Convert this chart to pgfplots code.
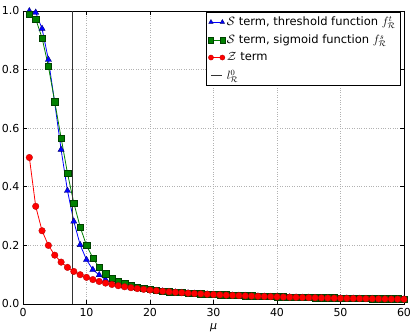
\documentclass[border=0pt]{standalone}
\usepackage{fontspec}
\setmainfont{DejaVu Sans}
\usepackage{pgfplots}
\usepackage{pgfplotstable}
\pgfplotsset{compat=1.18}

\definecolor{mblue}{rgb}{0,0,1}
\definecolor{mgreen}{rgb}{0,0.5,0}
\definecolor{mred}{rgb}{1,0,0}

\pgfplotstableread{
mu thr sig z
1 1.000 0.990 0.5000
2 0.995 0.973 0.3333
3 0.940 0.908 0.2500
4 0.834 0.811 0.2000
5 0.686 0.690 0.1667
6 0.527 0.567 0.1429
7 0.387 0.447 0.1250
8 0.282 0.345 0.1111
9 0.202 0.263 0.1000
10 0.151 0.200 0.0909
11 0.117 0.157 0.0833
12 0.099 0.125 0.0769
13 0.083 0.104 0.0714
14 0.072 0.088 0.0667
15 0.065 0.077 0.0625
16 0.060 0.069 0.0588
17 0.056 0.063 0.0556
18 0.053 0.058 0.0526
19 0.050 0.054 0.0500
20 0.048 0.050 0.0476
21 0.0455 0.047 0.0455
22 0.0435 0.0445 0.0435
23 0.0417 0.0425 0.0417
24 0.0400 0.0410 0.0400
25 0.0385 0.0395 0.0385
26 0.0370 0.0380 0.0370
27 0.0357 0.0367 0.0357
28 0.0345 0.0355 0.0345
29 0.0333 0.0343 0.0333
30 0.0323 0.0333 0.0323
31 0.0313 0.0323 0.0313
32 0.0303 0.0313 0.0303
33 0.0294 0.0304 0.0294
34 0.0286 0.0296 0.0286
35 0.0278 0.0288 0.0278
36 0.0270 0.0280 0.0270
37 0.0263 0.0273 0.0263
38 0.0256 0.0266 0.0256
39 0.0250 0.0260 0.0250
40 0.0244 0.0254 0.0244
41 0.0238 0.0248 0.0238
42 0.0233 0.0243 0.0233
43 0.0227 0.0237 0.0227
44 0.0222 0.0232 0.0222
45 0.0217 0.0227 0.0217
46 0.0213 0.0223 0.0213
47 0.0208 0.0218 0.0208
48 0.0204 0.0214 0.0204
49 0.0200 0.0210 0.0200
50 0.0196 0.0206 0.0196
51 0.0192 0.0202 0.0192
52 0.0189 0.0199 0.0189
53 0.0185 0.0195 0.0185
54 0.0182 0.0192 0.0182
55 0.0179 0.0189 0.0179
56 0.0175 0.0185 0.0175
57 0.0172 0.0182 0.0172
58 0.0169 0.0179 0.0169
59 0.0167 0.0177 0.0167
60 0.0164 0.0174 0.0164
}\curves

\begin{document}
\begin{tikzpicture}
\useasboundingbox (-23pt,-32pt) rectangle (392pt,304pt);
\begin{axis}[
  scale only axis, width=381pt, height=293pt,
  xmin=0, xmax=60, ymin=0, ymax=1,
  xtick={0,10,...,60}, ytick={0,0.2,...,1.0},
  yticklabel style={/pgf/number format/.cd, fixed, fixed zerofill, precision=1},
  /pgf/number format/assume math mode=true,
  tick label style={font=\fontsize{11}{13}\selectfont},
  xticklabel style={yshift=-1pt},
  major tick length=4pt, tick style={black, line width=0.6pt},
  axis line style={black, line width=0.8pt},
  grid=major, grid style={gray!60, dotted, line width=0.6pt},
  xlabel={\fontsize{11}{13}\selectfont\itshape μ},
  xlabel style={yshift=0pt},
  legend cell align=left,
  legend style={at={(0.99,0.997)}, anchor=north east, draw=black, line width=0.6pt,
    font=\fontsize{11.5}{13}\selectfont, inner sep=2.5pt, row sep=3.5pt},
  legend image code/.code={\draw[#1, mark size=2.6pt] plot coordinates {(0cm,0cm) (0.4cm,0cm)};},
]
\addplot[mblue, line width=0.8pt, mark=triangle*, mark size=3.6pt,
  mark options={fill=mblue, draw=black!60!mblue, line width=0.3pt}] table[x=mu, y=thr] {\curves};
\addlegendentry{$\mathcal{S}$ term, threshold function $f^{t}_{\mathcal{R}}$}
\addplot[mgreen, line width=0.8pt, mark=square*, mark size=3.2pt,
  mark options={fill=mgreen, draw=black!50!mgreen, line width=0.3pt}] table[x=mu, y=sig] {\curves};
\addlegendentry{$\mathcal{S}$ term, sigmoid function $f^{s}_{\mathcal{R}}$}
\addplot[mred, line width=0.8pt, mark=*, mark size=3.3pt,
  mark options={fill=mred, draw=black!30!mred, line width=0.3pt}] table[x=mu, y=z] {\curves};
\addlegendentry{$\mathcal{Z}$ term}
\addplot[black!80, line width=0.7pt, mark=none] coordinates {(7.7,0) (7.7,1)};
\addlegendentry{$l^{0}_{\mathcal{R}}$}
\end{axis}
\end{tikzpicture}
\end{document}
